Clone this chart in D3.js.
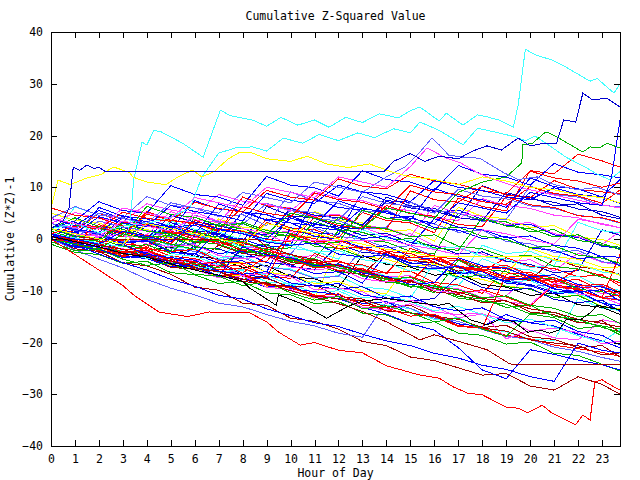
<!DOCTYPE html>
<html><head><meta charset="utf-8">
<script src="https://cdn.jsdelivr.net/npm/d3@7/dist/d3.min.js"></script>
<style>
body{margin:0;background:#fff}
text{font-family:"DejaVu Sans Mono","Liberation Mono",monospace;font-size:11.5px;fill:#000}
</style>
</head><body><svg id="chart" width="640" height="480"></svg>
<script>
// ---- text / ticks ----
const titleText = "Cumulative Z-Squared Value";
const xLabelText = "Hour of Day";
const yLabelText = "Cumulative (Z*Z)-1";
const xTicks = [0,1,2,3,4,5,6,7,8,9,10,11,12,13,14,15,16,17,18,19,20,21,22,23];
const yTicks = [-40,-30,-20,-10,0,10,20,30,40];
const hours = [0,1,2,3,4,5,6,7,8,9,10,11,12,13,14,15,16,17,18,19,20,21,22,23,23.75];

// ---- series read as [hour, value] pairs ----
const cyanTop = [[0,1],[1,0.2],[2,-0.8],[3,-1.5],[3.3,3],[3.45,11.4],[3.8,18.7],[4,18.2],[4.3,21],[4.6,20.7],[5.5,18.5],[6.35,15.8],[7.07,24.9],[7.5,23.8],[8.4,23],[9,21.8],[9.6,23.5],[10.3,22],[11,23],[11.6,21.6],[12.3,23.5],[13,22.5],[13.7,24.2],[14.5,23.4],[15,24.8],[15.4,25.5],[16.2,22.8],[16.5,24.3],[17.2,22],[17.8,24],[18.2,23.6],[18.7,23],[19.3,21.6],[19.5,25.9],[19.8,36.7],[20.2,35.6],[20.9,34.6],[21.5,33.2],[22.5,30.5],[22.8,31],[23.5,28.2],[23.75,30]];
const cyanB = [[0,2],[1,3],[2,1.2],[3,2.5],[4,3],[5,4.2],[5.8,6],[6.3,12],[7,16.6],[7.7,17.6],[8.4,17.8],[9,17],[9.7,19.5],[10.5,18.5],[11.2,20.2],[12,19],[12.8,20.5],[13.5,19.6],[14.3,21.3],[15,20.5],[15.4,22.6],[16.2,21],[17.2,18.2],[17.8,21.4],[18.7,20.5],[19.4,19.7],[19.8,19],[20.2,19.9],[20.6,18.7],[21.5,15.8],[22.3,13.9],[22.8,12.5],[23.3,11.5],[23.75,13]];
const darkBlueTop = [[0,2],[0.5,3.5],[0.75,6],[0.93,13.9],[1.2,13.3],[1.5,14.3],[1.8,13.6],[2.0,13.9],[2.27,13],[13.9,13],[14.3,15],[15,16.5],[15.6,15],[16.2,16],[17,15.5],[17.6,17],[18.2,18],[18.8,17.2],[19.5,19.5],[20,18],[20.6,18.5],[21.1,18.5],[21.4,23],[21.9,22.6],[22.2,28.2],[22.6,26.9],[23.2,27.2],[23.75,25.5]];
const blueRight = [[0,1],[1,0],[2,-1],[3,1.5],[4,0.5],[5,-0.5],[6,3],[7,2],[8,1],[9,0],[10,4],[11,3],[12,2],[13,6],[14,5],[15,4],[16,3],[17,7],[18,6],[19,5],[20,9],[21,8],[22,7],[23,6.5],[23.4,12],[23.75,23]];
const greenTop = [[0,0],[1,-1],[2,-2],[3,1],[4,0],[5,-1],[6,-2],[7,3],[8,2],[9,1],[10,5],[11,4],[12,3],[13,2],[14,6],[15,5],[16,4],[17,9],[18,11],[19,12],[19.65,14.7],[19.7,18.2],[20.1,18.5],[20.6,20.5],[20.7,20.7],[21.2,19.5],[22.2,16.8],[22.5,17.8],[22.9,17.6],[23.2,18.5],[23.75,17.6]];
const periTop = [[0,3],[1,2],[2,5],[3,4],[4,3],[5,7],[6,6],[7,5],[8,9],[9,8],[10,7],[11,11],[12,10],[13,9],[14,12],[14.8,14],[15.4,16.8],[15.9,19.5],[16.2,18.2],[16.6,16.2],[17.2,15.8],[17.9,15.6],[18.5,13.9],[18.9,12.8],[19.5,11.5],[20.3,12],[21,10.5],[22,9.5],[22.8,10],[23.75,8.5]];
const magentaTop = [[0,4],[1,3],[2,2],[3,6],[4,5],[5,4],[6,8],[7,7],[8,6],[9,10],[10,9],[11,8],[12,12],[13,11],[14,10],[15,14],[15.7,17.6],[16.5,15.6],[17.1,14.7],[17.8,12.8],[18.5,11.5],[19.5,10],[20.5,9],[21.5,8],[22.5,7],[23.75,6]];
const redBottom = [[0,0],[1,-3],[2,-6],[3,-9],[3.5,-11],[4.5,-14.1],[5.7,-15],[6.6,-14.1],[7.2,-14.2],[8.3,-14.3],[9,-16],[9.5,-18],[10.4,-20.5],[11,-20],[12,-21.5],[13,-22],[14,-24.5],[15.4,-26.3],[16.2,-26.9],[16.8,-28.6],[17.4,-29.8],[18,-30.1],[19,-32.5],[19.5,-32.7],[19.9,-33.6],[20.5,-32.1],[20.9,-33.6],[21.9,-35.9],[22.2,-34],[22.5,-35],[22.7,-27.6],[23,-27.2],[23.2,-27.8],[23.75,-29.2]];
const darkRedFlat24 = [[0,1],[1,0],[2,-1.2],[3,-2],[4,-3.5],[5,-4.2],[6,-5.5],[7,-6.3],[8,-7.8],[9,-8.5],[10,-10],[11,-11.2],[12,-12.5],[13,-14],[14,-16],[15.4,-19.5],[16,-18.5],[17.1,-19.9],[18.2,-21.4],[19.1,-24],[19.3,-24.3],[23.75,-24.3]];
const darkRedFlat0 = [[0,0],[8.6,0],[9,-1.5],[10,-3],[11,-4],[12,-5.2],[13,-6],[14,-7.5],[15,-8.2],[16,-9.5],[17,-10.3],[18,-11.5],[19,-12],[20,-13.5],[21,-14.2],[22,-15.5],[23,-16.3],[23.75,-17]];
const magentaFlat = [[0,2],[1,1],[2,0.5],[3,3.5],[4,2.5],[5,1.5],[6,4.5],[7,3.5],[8,2],[9,1],[9.6,-0.3],[14.2,-0.3],[15,-1.2],[16,-2],[17,-3.1],[18,1.8],[19,1],[20,-0.2],[21,-1],[22,3.8],[23,3],[23.75,2.2]];
const yellowFlat = [[0,2],[1,1],[2,0],[3,-1],[4,3],[5,2],[6,1],[7,0],[8,-1],[9,3],[10,2],[11,1],[12,0],[13,-1],[14,-2],[15,-2.5],[15.8,-3.3],[20.6,-3.3],[21,-4],[22,-5],[23,-6],[23.75,-7]];
const yellowTop = [[0,6],[0.29,11.4],[0.8,10.5],[1.5,11.8],[2.1,12.5],[2.6,13.9],[2.75,13.7],[3.3,12.8],[3.4,12],[4,11],[4.8,10.5],[5.3,12],[5.9,13.3],[6.3,12],[6.8,13],[7.4,15.5],[7.9,16.8],[8.3,16.8],[9,15.5],[10,15],[10.7,16],[11.5,14.5],[12.4,13.8],[13.3,14.5],[14.2,13],[15,12],[16,11.5],[17,10.5],[18,12],[19,11.2],[20,10],[21,9.5],[22,8.5],[23,8],[23.75,7]];
const blackA = [[0,0.5],[1,-0.5],[2,-1.5],[3,-2.8],[4,-3.5],[5,-4.8],[6,-6],[7,-7],[8,-8.2],[8.3,-9.5],[9.4,-12.8],[9.5,-10.8],[10.4,-12.4],[11.5,-15.3],[11.9,-14.3],[12.4,-13],[13,-12],[14,-11.5],[15.4,-12.4],[16.2,-12.8],[16.6,-12.4],[17.5,-15.6],[18.2,-16.6],[18.7,-15.6],[19.3,-15.9],[19.9,-18],[20.4,-17.6],[20.8,-18.2],[21.2,-17.6],[21.5,-15.6],[22.1,-15.6],[22.5,-14.3],[22.8,-12.8],[23.75,-13.7]];

// ---- series read at the hours above ----
const G01 = [2,0.6,1.1,-0.9,-1.4,2.8,1.2,0.9,-1.3,3.9,2.1,1.8,0.2,5.1,3.6,3.1,1.2,7.9,6.3,5.4,13.2,12.6,16.4,15.1,13.9];
const G02 = [1,-0.4,-0.9,-2.8,-2.5,-4.4,-4.9,-6.3,-7.8,-7.2,-3.4,-4.9,-5.3,-7.1,-7.6,-9.2,-9.5,-11.4,-12.0,-12.6,-14.5,-14.1,-16.0,-16.8,-17.4];
const G03 = [0,-1.6,-1.2,3.4,1.7,1.1,-0.8,-0.4,5.2,3.6,3.1,1.2,0.9,9.2,7.4,7.1,5.2,5.6,3.8,2.6,2.9,0.8,0.3,-1.4,-1.8];
const G04 = [2,0.7,0.2,4.1,2.4,2.1,0.2,0.5,-1.6,-1.9,-3.6,-3.2,-5.4,-5.8,-7.3,-7.1,-9.2,-9.6,-11.3,-11.0,-6.8,-8.5,-8.9,-10.6,-10.3];
const G05 = [1,-0.3,-1.7,-1.2,-3.4,-3.9,-4.4,-6.5,-6.1,-8.3,-8.7,-10.4,-10.0,-12.1,-12.8,-13.5,-15.6,-15.2,-17.3,-17.9,-19.4,-19.6,-11.5,-13.4,-13.8];
const G06 = [0,-1.9,-2.4,-4.6,-5.2,-6.8,-9.3,-9.9,-12.4,-12.8,-15.3,-15.9,-17.4,-19.8,-20.6,-22.8,-23.5,-24.9,-26.3,-26.0,-28.4,-29.2,-26.6,-28.1,-30.0];
const G07 = [0,-1.4,-1.9,-3.4,-3.1,-5.2,-5.6,-7.3,-7.0,-9.2,-9.8,-11.5,-1.2,-3.4,-3.9,-5.3,-5.0,-7.2,-7.8,-9.1,-9.6,-11.3,-10.8,-13.0,-13.5];
const G08 = [1,-0.6,-0.9,2.3,0.6,0.3,-1.6,-1.9,-3.5,-3.1,-5.3,-5.9,-1.1,-2.6,-2.9,-4.8,-4.4,-6.5,-6.9,-8.2,-8.8,-10.3,-10.0,-12.4,-13.8];
const G09 = [0,-2.1,-3.9,-5.6,-7.8,-9.5,-10.8,-12.4,-13.1,-14.6,-15.9,-16.8,-18.2,-19.0,-12.1,-13.4,-15.3,-15.9,-17.5,-18.8,-19.4,-20.9,-21.7,-22.9,-23.6];
const G10 = [1,-0.5,-0.8,-2.7,-3.1,-3.9,-5.8,-6.2,-7.0,-8.9,-9.1,-10.8,-11.5,-11.9,-13.8,-14.3,-15.0,-16.9,-17.2,-18.6,-19.3,-20.5,-21.2,-21.9,-22.7];
const G11 = [2,0.4,0.9,-1.3,-1.8,2.6,0.9,0.4,-1.5,-1.0,-3.4,-3.8,1.6,-0.2,-0.6,-2.4,-2.9,5.0,3.6,3.3,1.4,1.8,-0.3,-0.8,-2.1];
const G12 = [1,-0.7,-1.2,-2.9,-2.6,-4.7,-5.1,-6.3,-7.9,-7.4,-9.6,-10.2,-10.7,-12.5,-12.1,-14.3,-14.8,-16.4,-16.9,-14.6,-16.2,-16.8,-18.4,-19.7,-21.0];
const G13 = [5,3.6,3.1,1.4,1.8,-0.3,5.2,3.4,3.0,1.1,1.5,-0.6,-1.1,2.3,0.6,1.0,-1.3,-1.8,-2.9,-4.4,-4.0,-6.2,-2.7,-4.5,-5.0];
const G14 = [4,2.6,2.1,0.4,0.8,-1.5,-1.9,-3.7,-3.2,-5.4,-5.8,-7.5,-7.1,-9.3,-9.7,-11.4,-4.6,-6.3,-6.8,-8.4,-8.0,-10.2,-10.6,-12.3,-12.9];
const G15 = [1,-0.2,-1.6,-1.1,-3.3,-3.7,-5.4,-5.0,-7.2,-7.6,-9.3,-8.9,-11.1,-11.6,-13.2,-12.8,-15.0,-15.5,-17.1,-16.7,-18.9,-19.4,-21.0,-20.6,-22.8];
const G16 = [3,1.6,1.1,-0.6,5.2,3.5,3.0,1.3,1.7,-0.5,-0.9,5.3,3.6,3.1,1.4,1.8,-0.4,6.1,4.4,3.9,2.2,2.6,0.4,-0.1,-1.2];
const G17 = [3,1.5,1.0,-0.7,-0.3,3.2,1.6,1.1,-0.6,6.3,4.5,4.0,2.3,1.9,8.1,6.4,5.9,4.2,10.3,8.6,8.1,6.4,6.8,4.6,3.9];
const G18 = [2,0.5,0.9,-1.2,3.1,1.4,0.9,-0.8,-0.4,-2.5,-2.9,2.2,0.5,0.0,-1.7,-1.3,-3.4,-3.9,-5.5,-5.1,-7.3,-7.8,-9.4,-9.0,-11.1];
const G19 = [1,-0.5,-1.0,-2.6,-2.2,-1.6,-3.4,-3.8,-5.5,-5.1,-7.3,-7.7,-9.4,-3.2,-4.9,-5.4,-7.0,-6.6,-8.8,-9.3,-10.9,-10.5,-12.7,-13.2,-14.6];
const G20 = [3,1.5,5.0,3.3,2.9,1.1,1.5,-0.6,-1.0,3.2,1.6,1.0,-0.6,-0.2,-2.4,-2.8,-4.5,-4.1,-6.3,-3.6,-5.3,-5.7,-7.3,-6.9,-9.1];
const G21 = [-1,-2.6,-3.0,-4.7,-4.3,-6.5,-6.9,-8.6,-8.2,-10.4,-10.8,-12.5,-12.1,-14.3,-14.7,-16.4,-16.0,-18.2,-18.6,-20.3,-19.9,-22.1,-22.5,-24.2,-25.5];
const G22 = [0,-1.6,-1.2,-3.3,-3.8,-5.4,-5.0,-7.2,-7.7,-9.3,-8.9,-11.1,-11.5,-13.2,-14.5,-16.4,-17.6,-21.0,-25.3,-27.0,-21.4,-22.3,-23.4,-24.3,-25.3];
const G23 = [0,-1.5,-1.9,-3.6,-3.2,-5.4,-5.9,-7.5,-7.1,-9.3,-9.8,-11.4,-11.0,-13.2,-13.7,-12.5,-14.1,-14.6,-14.3,-19.3,-17.6,-19.1,-19.5,-15.6,-16.2];
const G24 = [0,6.2,4.6,4.1,2.4,2.8,0.6,0.1,-1.6,-1.2,-3.4,-3.9,-5.5,-5.1,-7.3,-7.8,-9.4,-9.0,-3.8,-5.5,-6.0,-7.6,-7.2,-9.4,-9.9];
const G25 = [2,0.5,0.0,3.2,1.5,1.0,-0.7,-0.3,-2.4,-2.9,-4.5,-4.1,-6.3,-6.8,-8.4,-8.0,-10.2,-10.7,-12.3,-11.9,-14.1,-14.6,-16.2,-15.8,-18.0];
const G26 = [4,6.3,4.6,4.1,8.2,6.5,6.0,4.3,4.7,2.6,9.1,7.4,6.9,5.2,5.6,3.4,2.9,1.3,1.7,-0.5,-0.9,-2.6,-2.2,-4.4,-4.9];
const G27 = [0,-1.4,-1.9,-3.5,-1.6,-3.3,-3.8,-5.4,-5.0,-7.2,-7.6,-2.8,-4.5,-5.0,-6.6,-6.2,-8.4,-8.9,-10.5,-5.7,-7.4,-7.9,-9.5,-9.1,-11.3];
const G28 = [3,1.6,1.1,-0.6,-0.2,-2.3,4.2,2.5,2.0,0.4,0.8,-1.4,-1.8,-3.5,-3.1,-5.3,-5.8,-7.4,-7.0,-9.2,-9.7,-11.3,-10.9,-13.1,-13.6];
const G29 = [3,1.5,1.0,-0.7,-0.3,-2.5,-2.9,-4.6,-4.2,-6.4,2.2,0.5,0.0,-1.7,-1.3,-3.5,-3.9,-5.6,-5.2,-7.4,-7.8,-9.5,-9.1,-11.3,-11.7];
const G30 = [4,2.6,2.1,0.4,5.3,3.6,3.1,1.4,8.1,6.4,5.9,4.2,4.6,2.4,1.9,9.3,7.6,7.1,10.2,8.5,8.0,11.3,9.6,9.1,8.7];
const G31 = [0,-1.4,-1.9,-3.6,-3.2,1.2,-0.5,-1.0,-2.6,-2.2,-4.4,-4.9,-6.5,-6.1,-8.3,-8.8,-10.4,-4.1,-5.8,-6.3,-7.9,-7.5,-9.7,-10.2,-11.0];
const G32 = [2,0.5,6.1,4.4,3.9,2.3,2.7,0.5,0.0,-1.6,-1.2,7.8,6.1,5.6,4.0,4.4,2.2,1.7,0.1,0.5,-1.7,-2.2,-3.8,-3.4,-5.2];
const G33 = [0.5,-1.1,-1.6,-3.2,-2.8,-5.0,-5.4,-7.1,-6.7,-8.9,-9.4,-11.0,-10.6,-12.8,-13.3,-14.9,-14.5,-16.7,-17.2,-6.8,-6.4,-8.6,-5.8,-7.1,-8.5];
const G34 = [1,-0.4,-0.9,-2.6,-2.2,-4.4,-4.8,-5.6,-2.1,-3.3,-3.8,-5.4,-5.0,-7.2,-7.7,-9.3,-8.9,-11.1,-11.6,-13.2,-12.8,-15.0,-15.5,-17.1,-18.0];
const G35 = [0,-1.5,-2.0,-3.6,-3.2,-5.4,-1.2,-2.8,-2.4,-4.6,-5.0,-6.7,-6.3,-8.5,-2.9,-4.6,-5.1,-6.7,-6.3,-8.5,-9.0,-10.6,-10.2,-12.4,-12.9];
const G36 = [1.5,0.1,-0.4,-2.1,-1.7,1.6,-0.1,-0.6,-2.2,-1.8,-4.0,-4.5,-6.1,-5.7,-7.9,-8.4,-3.6,-5.3,-5.8,-7.4,-7.0,-9.2,-9.7,-11.3,-3.0];
const G37 = [2,4.1,2.4,1.9,0.3,0.7,-1.5,-2.0,3.3,1.6,1.1,-0.5,4.2,2.5,2.0,0.4,0.8,-1.4,-1.9,-3.5,-3.1,-5.3,-5.8,-7.4,-8.0];
const G38 = [1,-1.2,-2.9,-4.6,-6.0,-7.8,-9.1,-10.9,-11.6,-13.5,-14.8,-16.2,-16.9,-18.4,-19.7,-20.6,-22.1,-23.0,-24.4,-25.2,-26.6,-27.5,-20.1,-21.5,-22.0];
const G39 = [2,3.5,7.2,5.5,5.0,10.3,8.6,8.1,6.5,12.1,10.4,9.9,8.3,13.2,11.5,11.0,9.4,14.2,12.5,12.0,10.4,14.6,12.9,12.4,11.8];
const N01 = [3,1.8,1.3,4.5,3.0,2.4,0.9,6.8,5.2,4.7,3.1,2.6,7.4,5.8,5.3,3.7,9.8,8.2,7.6,6.1,11.8,10.1,9.7,8.1,11.5];
const N02 = [1,-0.4,2.8,1.2,0.7,-0.9,3.6,2.0,1.5,-0.1,-0.5,4.2,2.6,2.1,6.5,4.9,4.4,2.8,2.4,8.2,6.6,6.1,4.5,4.1,3.2];
const N03 = [4,2.5,2.0,0.4,0.8,5.3,3.7,3.2,8.1,6.5,6.0,4.4,4.8,2.6,2.1,0.5,6.5,4.9,4.4,2.8,3.2,1.0,0.5,-1.1,1.5];
const N04 = [0,-1.4,2.5,0.9,0.4,-1.2,-0.8,2.8,1.2,0.7,5.6,4.0,3.5,1.9,2.3,7.1,5.5,5.0,3.4,3.8,10.2,8.6,8.1,6.5,6.2];
const N05 = [2,0.6,0.1,-1.5,-1.1,-2.8,1.6,0.0,-0.5,-2.1,-1.7,3.4,1.8,1.3,-0.3,0.1,-1.7,-2.2,4.1,2.5,2.0,0.4,0.8,-1.2,-1.6];
const N06 = [1,-0.5,-1.0,-2.6,-2.2,-3.9,-4.6,-1.2,-2.8,-3.3,-4.9,-4.5,-6.2,-6.9,-2.5,-4.1,-4.6,-6.2,-5.8,-7.5,-8.0,-3.8,-5.4,-5.9,-6.8];
const N07 = [3,1.6,1.1,-0.5,-0.1,3.5,1.9,1.4,-0.2,0.2,-1.8,-2.3,-3.9,1.8,0.2,-0.3,-1.9,-1.5,-3.4,-3.9,-5.5,-5.1,3.2,1.6,1.2];
const N08 = [0,-1.5,-2.0,-3.6,-3.2,-4.9,-5.5,-7.1,-1.5,-3.1,-3.6,-5.2,-4.8,-6.6,-7.2,-8.8,-8.4,-3.6,-5.2,-5.7,-7.3,-6.9,-8.8,-9.3,-10.3];
const N09 = [5,3.6,3.1,1.5,1.9,0.1,-0.5,3.9,2.3,1.8,0.2,0.6,-1.3,-1.9,-3.5,-3.1,-4.9,-5.5,-7.1,-6.7,-1.8,-3.4,-3.9,-5.5,-5.4];
const N10 = [0,-0.7,-2.3,-2.7,-2.2,-4.3,-4.9,-4.4,-6.6,-3.2,-3.9,-5.6,-5.1,-6.4,-7.9,-7.3,-8.7,-10.5,-9.8,-11.2,-13.0,-8.8,-9.7,-11.3,-10.8];
const N11 = [2,0.6,0.1,4.2,2.6,2.1,0.5,0.9,-0.9,-1.5,4.4,2.8,2.3,0.7,1.1,-0.7,-1.3,-2.9,-2.5,-4.3,-4.9,-6.5,-6.1,1.8,0.7];
const N12 = [-0.5,-2.3,-2.0,-3.9,-5.1,-4.6,-6.8,-7.2,-9.0,-8.3,-10.4,-11.8,-11.1,-13.5,-12.9,-14.2,-16.0,-15.3,-17.4,-18.8,-14.5,-15.2,-17.3,-16.8,-18.5];
const N13 = [1,0.3,-1.6,-1.9,-2.4,-4.5,-4.0,-5.2,-7.1,-6.6,-7.3,-9.8,-9.5,-10.2,-12.4,-11.8,-13.0,-15.2,-14.5,-15.6,-17.8,-17.2,-18.1,-20.3,-19.7];
const N14 = [4,2.6,5.5,3.9,3.4,1.8,7.4,5.8,5.3,3.7,4.1,2.3,1.7,0.1,0.5,-1.3,3.9,2.3,1.8,0.2,0.6,-1.2,-1.8,-3.4,-3.5];
const N15 = [2,1.3,-0.6,-0.2,-1.9,-2.4,-2.0,-4.2,-4.7,-4.3,0.8,0.1,-1.9,-1.5,-3.1,-3.6,-3.2,-5.4,-6.0,-5.5,-7.7,-8.2,-7.8,-10.0,-10.5];
const N16 = [0.5,-1.5,-1.0,-2.4,-3.8,-3.1,-5.2,-6.4,-5.9,-7.0,-8.9,-8.2,-9.6,-11.4,-10.8,-12.1,-13.9,-13.0,-14.6,-16.2,-15.5,-17.0,-18.7,-19.9,-17.5];
const N17 = [3,1.6,1.1,-0.5,-0.1,-1.8,-2.4,-4.0,-3.6,-5.4,-6.0,-7.6,-7.2,-1.9,-3.5,-4.0,-5.6,-5.2,-7.0,-7.6,-9.2,-8.8,-10.6,-11.2,-11.8];
const N18 = [1.5,0.1,-0.4,3.1,1.5,1.0,-0.6,-0.2,-2.0,-2.6,-4.2,-3.8,-5.6,-6.2,-7.8,-7.4,-9.2,-9.8,-11.4,-11.0,-12.8,-13.4,-15.0,-14.6,-16.3];
const N19 = [6,4.6,4.1,2.5,2.9,1.2,0.6,-1.0,-0.6,-2.4,-3.0,-4.6,-4.2,-6.0,-6.6,-1.8,-3.4,-3.9,-5.5,-5.1,-6.9,-7.5,-9.1,-8.7,-10.3];
const N20 = [1,-0.9,-1.6,-1.0,-3.0,-3.6,-4.1,-6.2,-6.8,-6.3,-8.5,-9.1,-8.6,-10.8,-11.5,-11.0,-13.1,-13.9,-13.3,-15.6,-16.1,-15.7,-17.9,-18.6,-20.5];
const N21 = [2,0.6,0.1,-1.5,-1.1,-2.8,-3.4,-5.0,-4.6,-6.4,-7.0,-8.6,-8.2,-10.0,-10.6,-4.2,-3.8,-5.6,-6.2,-7.8,-7.4,-9.2,-9.8,-11.4,-11.8];
const N22 = [0,-1.0,-2.6,-2.9,-3.4,-5.5,-5.8,-6.3,-8.2,-8.7,-9.2,-11.0,-11.6,-12.0,-13.9,-14.3,-14.9,-16.7,-17.2,-17.8,-19.5,-20.1,-20.6,-22.4,-22.0];
const N23 = [4,2.6,2.1,0.5,6.3,4.7,4.2,2.6,3.0,1.2,0.6,-1.0,-0.6,5.6,4.0,3.5,1.9,2.3,0.5,-0.1,-1.7,-1.3,-3.1,-3.7,-4.7];
const N24 = [3,2.2,0.5,0.9,-1.0,-1.5,-1.1,-3.2,-3.8,-3.3,-5.4,-6.0,-5.5,-7.7,-8.3,-7.8,-9.9,-10.5,-10.0,-12.1,-12.7,-8.6,-10.6,-11.2,-12.6];
const N25 = [2,1.2,-0.1,-0.8,-0.4,-2.5,-3.1,1.8,1.0,-0.6,-1.2,-0.8,-2.9,-3.5,-3.0,-5.2,-5.8,-5.3,-7.4,-8.0,-7.5,-9.7,-10.2,-9.8,-12.0];
const N26 = [0,-0.8,-2.2,-2.7,-2.3,-4.6,-5.1,-4.6,-6.9,-7.4,-6.9,-9.1,-9.7,-9.2,-11.4,-12.0,-11.5,-7.2,-9.4,-10.0,-9.5,-11.7,-12.3,-11.8,-14.0];
const N27 = [1,-0.4,-0.9,-2.5,-2.1,-3.8,-4.4,-6.0,-5.6,-7.4,1.0,-0.6,-0.2,-2.0,-2.6,-4.2,-3.8,-5.6,-6.2,-7.8,-7.4,-9.2,-9.8,-11.4,-11.8];
const N28 = [2,0.6,0.1,-1.5,-1.1,-2.8,-3.4,-5.0,1.4,-0.4,-1.0,-2.6,-2.2,-4.0,-4.6,-6.2,-5.8,-7.6,-1.2,-2.8,-2.4,-4.2,-4.8,-6.4,-6.8];
const U1 = [1,2.5,1.9,5.2,4.0,3.4,7.1,5.9,5.2,9.4,8.1,7.5,11.6,10.2,9.7,12.5,11.2,10.6,9.3,8.8,13.1,11.8,11.2,10.0,10.8];
const U2 = [2,1.0,4.3,3.1,2.4,6.5,5.3,4.6,3.5,8.8,7.5,6.9,10.4,9.1,8.6,7.2,11.3,10.0,9.4,8.1,7.6,9.9,8.6,8.1,6.9];
const U3 = [3,5.1,4.0,3.3,6.8,5.6,4.9,8.6,7.3,6.8,5.4,9.2,7.9,7.4,6.0,5.5,4.1,3.6,7.8,6.5,5.9,4.6,4.1,2.8,2.2];
const U4 = [1,0.1,3.5,2.3,1.6,0.4,4.6,3.3,2.8,6.9,5.6,5.1,3.7,8.2,6.9,6.3,5.0,9.6,8.3,7.8,6.4,5.9,4.6,4.0,3.1];
const U5 = [4,2.9,2.3,1.0,4.8,3.6,2.9,1.7,6.2,5.0,4.3,8.9,7.6,7.1,5.7,10.4,9.1,8.6,7.2,6.7,10.1,8.8,8.3,6.9,9.5];
const U6 = [0,3.2,2.0,1.4,0.1,4.5,3.3,2.6,1.4,0.8,5.9,4.6,4.1,2.7,7.3,6.0,5.4,4.1,3.6,9.0,7.7,7.1,5.8,5.3,4.2];

// ---- colour groups ----
const redSeries = [G01,G10,G20,G27,G30,G33,G36,N02,N10,N15,N19,N27,U1,U5];
const greenSeries = [G02,G11,G21,G28,G31,G34,G37,N05,N12,N18,N23];
const blueSeries = [G03,G12,G22,G29,G32,G35,G38,G39,N01,N08,N14,N20,N25,U2];
const magentaSeries = [G04,G13,G23,N03,N13,N24,U3];
const cyanSeries = [G05,G14,G24,N07,N16,N28];
const darkRedSeries = [G06,G15,G25,N06,N22];
const yellowSeries = [G07,G16,N09,N21];
const darkBlueSeries = [G08,G17,N11,N26,U6];
const periSeries = [G09,G18,G26,N04,N17,U4];
const blackSeries = [G19];
const groupList = [redSeries,greenSeries,blueSeries,magentaSeries,cyanSeries,darkRedSeries,yellowSeries,darkBlueSeries,periSeries,blackSeries];
const groupColors = ["#ff0000","#00b000","#0000ff","#ff40ff","#40ffff","#a00000","#ffff00","#0000d0","#6060ff","#000000"];
const specialSeries = [cyanTop,cyanB,greenTop,periTop,magentaTop,redBottom,darkRedFlat24,darkRedFlat0,magentaFlat,yellowFlat,yellowTop,blackA,blueRight,darkBlueTop];
const specialColors = ["#40ffff","#40ffff","#00b000","#6060ff","#ff40ff","#ff0000","#a00000","#a00000","#ff40ff","#ffff00","#ffff00","#000000","#0000ff","#0000d0"];

// ---- drawing ----
const W = 640, H = 480;
const L = 51, R = 620, T = 32, B = 446;
const svg = d3.select("#chart");
svg.append("rect").attr("width", W).attr("height", H).attr("fill", "#fff");

const x = d3.scaleLinear().domain([0, 23.75]).range([L, R]);
const y = d3.scaleLinear().domain([-40, 40]).range([B, T]);

const toPts = s => (typeof s[0] === "number") ? s.map((v, i) => [hours[i], v]) : s;
const line = d3.line().x(d => x(d[0])).y(d => y(d[1]));

// interleave colour groups round-robin, then the distinctive series on top
const drawList = [];
const maxLen = d3.max(groupList, g => g.length);
for (let k = 0; k < maxLen; k++) {
  groupList.forEach((g, gi) => { if (k < g.length) drawList.push({s: g[k], c: groupColors[gi]}); });
}
specialSeries.forEach((s, i) => drawList.push({s, c: specialColors[i]}));

svg.append("g").selectAll("path").data(drawList).join("path")
  .attr("d", d => line(toPts(d.s)))
  .attr("fill", "none")
  .attr("stroke", d => d.c)
  .attr("stroke-width", 1)
  .attr("shape-rendering", "crispEdges");

// axes with inward ticks on all four sides
const axB = svg.append("g").attr("transform", `translate(0,${B})`)
  .call(d3.axisBottom(x).tickValues(xTicks).tickSize(-6).tickPadding(9).tickFormat(d3.format("d")));
const axT = svg.append("g").attr("transform", `translate(0,${T})`)
  .call(d3.axisTop(x).tickValues(xTicks).tickSize(-6).tickFormat(""));
const axL = svg.append("g").attr("transform", `translate(${L},0)`)
  .call(d3.axisLeft(y).tickValues(yTicks).tickSize(-6).tickPadding(8).tickFormat(d3.format("d")));
const axR = svg.append("g").attr("transform", `translate(${R},0)`)
  .call(d3.axisRight(y).tickValues(yTicks).tickSize(-6).tickFormat(""));
[axB, axT, axL, axR].forEach(a => {
  a.select(".domain").remove();
  a.selectAll("line").attr("stroke", "#000").attr("shape-rendering", "crispEdges");
  a.selectAll("text").attr("font-family", null).attr("font-size", null).attr("fill", "#000");
});

svg.append("rect").attr("x", L).attr("y", T).attr("width", R - L).attr("height", B - T)
  .attr("fill", "none").attr("stroke", "#000").attr("stroke-width", 1).attr("shape-rendering", "crispEdges");

svg.append("text").attr("x", (L + R) / 2).attr("y", 20).attr("text-anchor", "middle").text(titleText);
svg.append("text").attr("x", (L + R) / 2).attr("y", 477).attr("text-anchor", "middle").text(xLabelText);
svg.append("text").attr("transform", "translate(14,239) rotate(-90)").attr("text-anchor", "middle").text(yLabelText);
</script></body></html>
